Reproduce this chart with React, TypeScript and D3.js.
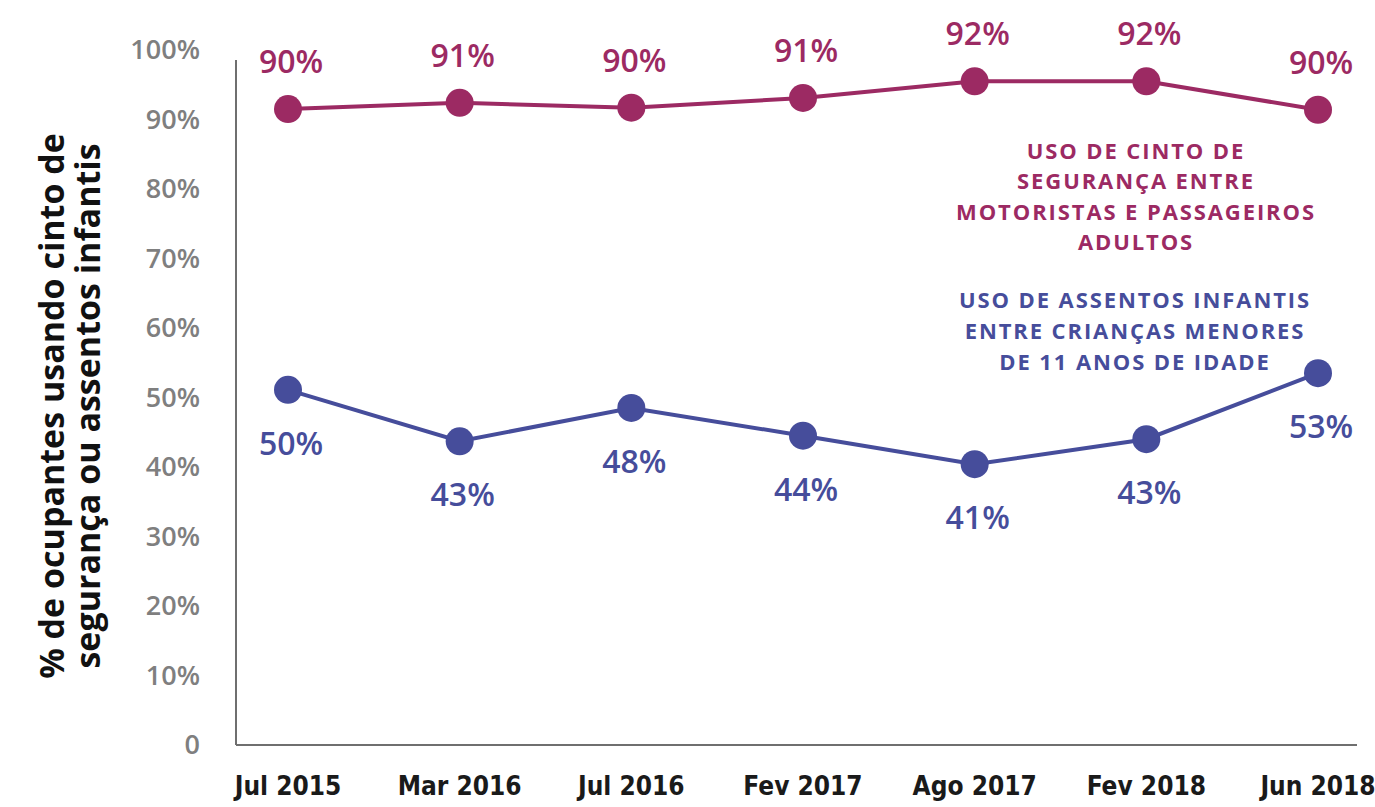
import * as d3 from "d3";

// categories and values
const periods = ["Jul 2015", "Mar 2016", "Jul 2016", "Fev 2017", "Ago 2017", "Fev 2018", "Jun 2018"];
const beltValues = [91.5, 92.4, 91.7, 93.1, 95.5, 95.5, 91.4];
const beltLabels = ["90%", "91%", "90%", "91%", "92%", "92%", "90%"];
const seatValues = [51.1, 43.7, 48.5, 44.5, 40.4, 44.0, 53.5];
const seatLabels = ["50%", "43%", "48%", "44%", "41%", "43%", "53%"];
const yTicks = [0, 10, 20, 30, 40, 50, 60, 70, 80, 90, 100];
const beltTitle = ["USO DE CINTO DE", "SEGURANÇA ENTRE", "MOTORISTAS E PASSAGEIROS", "ADULTOS"];
const seatTitle = ["USO DE ASSENTOS INFANTIS", "ENTRE CRIANÇAS MENORES", "DE 11 ANOS DE IDADE"];
const yTitle = ["% de ocupantes usando cinto de", "segurança ou assentos infantis"];

const W = 1375;
const H = 807;
const PINK = "#9c2a63";
const BLUE = "#464d9b";

export default function App() {
  const x = d3.scalePoint<string>().domain(periods).range([288, 1318]);
  const y = d3.scaleLinear().domain([0, 100]).range([745, 50]);

  const lineGen = d3
    .line<number>()
    .x((d, i) => x(periods[i])!)
    .y((d) => y(d));

  return (
    <svg
      width={W}
      height={H}
      style={{ position: "absolute", left: 0, top: 0, background: "#fff" }}
    >
      {/* axes */}
      <line x1={236} x2={236} y1={60} y2={y(0)} stroke="#6f6f6f" strokeWidth={2} />
      <line x1={236} x2={1357} y1={y(0)} y2={y(0)} stroke="#6f6f6f" strokeWidth={2} />

      {yTicks.map((t) => (
        <text
          key={t}
          x={200}
          y={y(t)}
          dy="0.35em"
          textAnchor="end"
          fontFamily="Open Sans"
          fontWeight={600}
          fontSize={27}
          fill="#7f7f7f"
        >
          {t === 0 ? "0" : t + "%"}
        </text>
      ))}

      {periods.map((p) => (
        <text
          key={p}
          x={x(p)}
          y={786}
          dy="0.35em"
          textAnchor="middle"
          fontFamily="'DejaVu Sans Condensed', 'DejaVu Sans', sans-serif"
          fontStretch="condensed"
          fontWeight={700}
          fontSize={26}
          fill="#1a1a1a"
        >
          {p}
        </text>
      ))}

      {/* y axis title */}
      <g transform="translate(70,406) rotate(-90)">
        {yTitle.map((t, i) => (
          <text
            key={i}
            x={0}
            y={(i - 0.5) * 36}
            dy="0.35em"
            textAnchor="middle"
            fontFamily="Open Sans"
            fontWeight={700}
            fontSize={34}
            fill="#111"
          >
            {t}
          </text>
        ))}
      </g>

      {/* belt series */}
      <path d={lineGen(beltValues)!} fill="none" stroke={PINK} strokeWidth={4} />
      {beltValues.map((v, i) => (
        <g key={i}>
          <circle cx={x(periods[i])} cy={y(v)} r={14} fill={PINK} />
          <text
            x={x(periods[i])! + 3}
            y={y(v) - 47}
            dy="0.35em"
            textAnchor="middle"
            fontFamily="Open Sans"
            fontWeight={600}
            fontSize={32}
            fill={PINK}
          >
            {beltLabels[i]}
          </text>
        </g>
      ))}

      {/* seat series */}
      <path d={lineGen(seatValues)!} fill="none" stroke={BLUE} strokeWidth={4} />
      {seatValues.map((v, i) => (
        <g key={i}>
          <circle cx={x(periods[i])} cy={y(v)} r={14} fill={BLUE} />
          <text
            x={x(periods[i])! + 3}
            y={y(v) + 54}
            dy="0.35em"
            textAnchor="middle"
            fontFamily="Open Sans"
            fontWeight={600}
            fontSize={32}
            fill={BLUE}
          >
            {seatLabels[i]}
          </text>
        </g>
      ))}

      {/* series annotations */}
      {beltTitle.map((t, i) => (
        <text
          key={t}
          x={1136}
          y={151 + i * 30.5}
          dy="0.35em"
          textAnchor="middle"
          fontFamily="Open Sans"
          fontWeight={700}
          fontSize={22}
          letterSpacing={1.9}
          fill={PINK}
        >
          {t}
        </text>
      ))}
      {seatTitle.map((t, i) => (
        <text
          key={t}
          x={1135}
          y={300 + i * 31}
          dy="0.35em"
          textAnchor="middle"
          fontFamily="Open Sans"
          fontWeight={700}
          fontSize={22}
          letterSpacing={1.9}
          fill={BLUE}
        >
          {t}
        </text>
      ))}
    </svg>
  );
}
